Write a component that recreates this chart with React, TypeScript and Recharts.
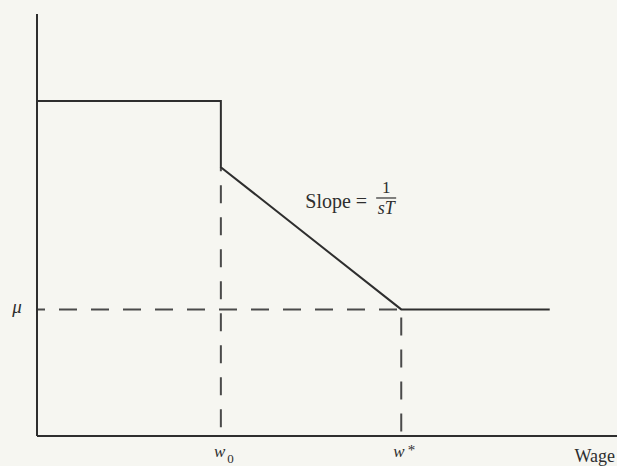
import React from "react";
import { LineChart, Line, XAxis, YAxis, ReferenceDot } from "recharts";

// wages on a 0-100 horizontal scale, utility-ish values on a 0-100 vertical scale
const w0 = 31.7;
const wStar = 62.8;
const wEnd = 88.4;
const mu = 30;
const topLevel = 79.4;
const dropLevel = 63.7;

const wageTicks = [w0, wStar];
const wageTickMarks = ["0", "*"];
const yTicks = [mu];

// main kinked schedule
const curveX = [0, w0, w0, wStar, wEnd];
const curveY = [topLevel, topLevel, dropLevel, mu, mu];

// dashed guides
const muGuideX = [0, wStar];
const muGuideY = [mu, mu];
const w0GuideX = [w0, w0];
const w0GuideY = [dropLevel, 0];
const wStarGuideX = [wStar, wStar];
const wStarGuideY = [mu, 0];

// where the slope note sits
const slopeNoteX = 60.2;
const slopeNoteY = 56.4;

const toPoints = (xs: number[], ys: number[]) => xs.map((x, i) => ({ x, y: ys[i] }));

const curve = toPoints(curveX, curveY);
const muGuide = toPoints(muGuideX, muGuideY);
const w0Guide = toPoints(w0GuideX, w0GuideY);
const wStarGuide = toPoints(wStarGuideX, wStarGuideY);

const INK = "#2e2e2e";
const DASH = "#4a4a4a";
const FONT = "'Liberation Serif', 'DejaVu Serif', serif";

const WageTick = (props: any) => {
    const { x, y, payload } = props;
    const i = wageTicks.indexOf(payload.value);
    const mark = wageTickMarks[i];
    const isSub = mark === "0";
    return (
        <text x={x + 3} y={y + 21} textAnchor="middle" fill={INK} fontFamily={FONT} fontSize={17}>
            <tspan fontStyle="italic">w</tspan>
            <tspan dx={isSub ? 2 : 3} dy={isSub ? 6 : -2} fontSize={isSub ? 13 : 15}>{mark}</tspan>
        </text>
    );
};

const MuTick = (props: any) => {
    const { x, y } = props;
    return (
        <text x={x - 20} y={y + 4} textAnchor="middle" fill={INK} fontFamily={FONT} fontStyle="italic" fontSize={19}>
            μ
        </text>
    );
};

const WageLabel = (props: any) => {
    const { viewBox } = props;
    return (
        <text x={viewBox.x + viewBox.width - 2} y={viewBox.y + 26} textAnchor="end" fill={INK} fontFamily={FONT} fontSize={18}>
            Wage
        </text>
    );
};

const SlopeNote = (props: any) => {
    const { viewBox } = props;
    const cx = viewBox.x + (viewBox.width || 0) / 2;
    const cy = viewBox.y + (viewBox.height || 0) / 2;
    return (
        <g fill={INK} fontFamily={FONT}>
            <text x={cx - 19} y={cy + 10} textAnchor="end" fontSize={20}>Slope =</text>
            <text x={cx} y={cy - 5} textAnchor="middle" fontSize={17}>1</text>
            <line x1={cx - 10} x2={cx + 10} y1={cy} y2={cy} stroke={INK} strokeWidth={1.2} />
            <text x={cx} y={cy + 16} textAnchor="middle" fontSize={18} fontStyle="italic">sT</text>
        </g>
    );
};

const App = () => {
    return (
        <div style={{ position: "absolute", left: 0, top: 0, width: 617, height: 466, background: "#f6f6f1" }}>
            <LineChart width={617} height={466} margin={{ top: 14, right: 0, left: 0, bottom: 0 }}>
                <XAxis
                    type="number"
                    dataKey="x"
                    domain={[0, 100]}
                    ticks={wageTicks}
                    tick={<WageTick />}
                    tickLine={false}
                    tickSize={0}
                    tickMargin={0}
                    height={30}
                    axisLine={{ stroke: INK, strokeWidth: 2 }}
                    label={<WageLabel />}
                />
                <YAxis
                    type="number"
                    domain={[0, 100]}
                    ticks={yTicks}
                    tick={<MuTick />}
                    tickLine={false}
                    tickSize={0}
                    tickMargin={0}
                    width={37}
                    axisLine={{ stroke: INK, strokeWidth: 2 }}
                />
                <Line data={muGuide} dataKey="y" stroke={DASH} strokeWidth={2} strokeDasharray="18 14" strokeDashoffset={-22} dot={false} isAnimationActive={false} />
                <Line data={w0Guide} dataKey="y" stroke={DASH} strokeWidth={2} strokeDasharray="18 14" strokeDashoffset={14} dot={false} isAnimationActive={false} />
                <Line data={wStarGuide} dataKey="y" stroke={DASH} strokeWidth={2} strokeDasharray="18 14" strokeDashoffset={-8} dot={false} isAnimationActive={false} />
                <Line data={curve} dataKey="y" type="linear" stroke={INK} strokeWidth={2} dot={false} isAnimationActive={false} />
                <ReferenceDot x={slopeNoteX} y={slopeNoteY} r={1} fill="none" stroke="none" label={<SlopeNote />} />
            </LineChart>
        </div>
    );
};

export default App;
